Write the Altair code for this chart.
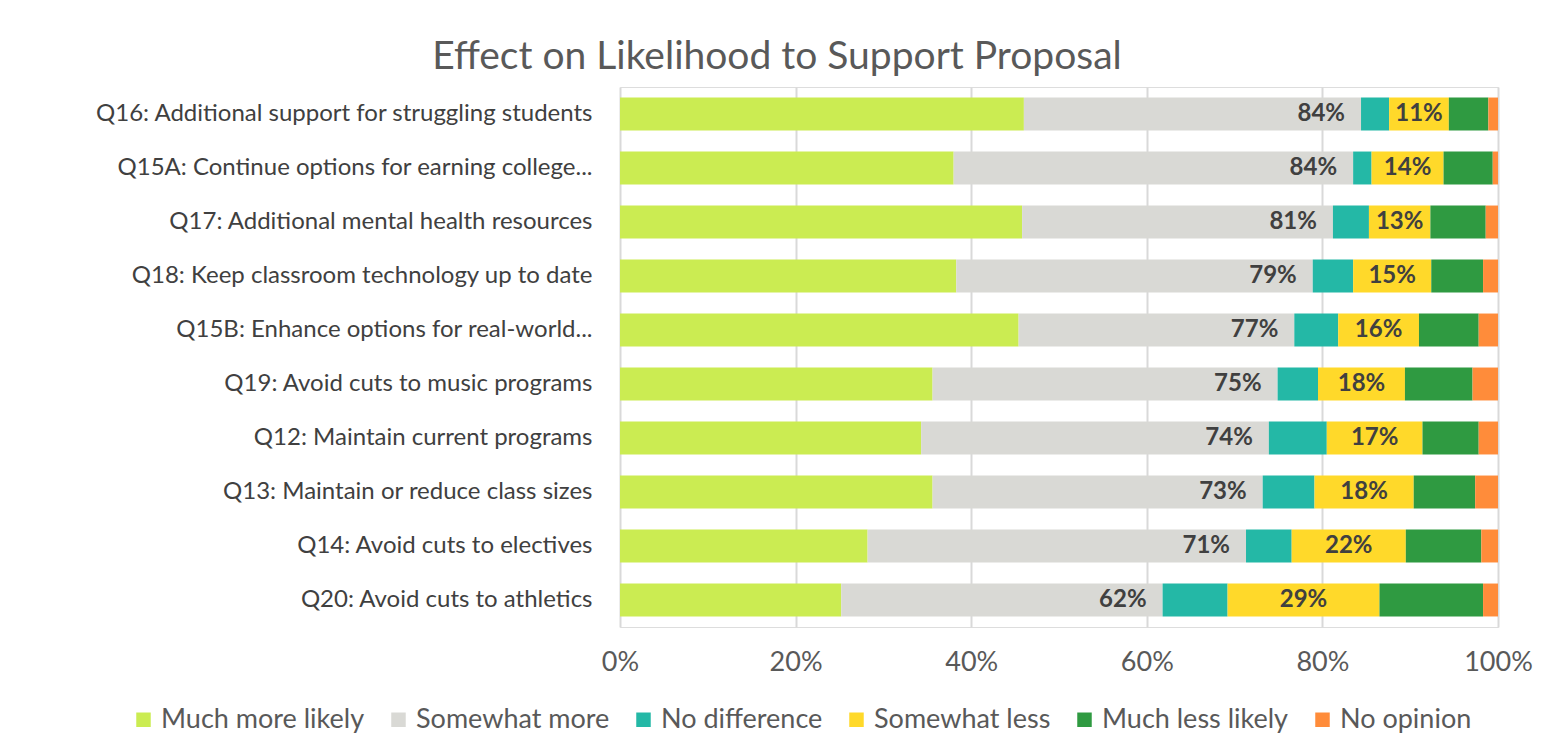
import altair as alt
import pandas as pd

questions = [
    "Q16: Additional support for struggling students",
    "Q15A: Continue options for earning college...",
    "Q17: Additional mental health resources",
    "Q18: Keep classroom technology up to date",
    "Q15B: Enhance options for real-world...",
    "Q19: Avoid cuts to music programs",
    "Q12: Maintain current programs",
    "Q13: Maintain or reduce class sizes",
    "Q14: Avoid cuts to electives",
    "Q20: Avoid cuts to athletics",
]
categories = ["Much more likely", "Somewhat more", "No difference",
              "Somewhat less", "Much less likely", "No opinion"]
much_more = [46.0, 38.0, 45.8, 38.3, 45.4, 35.6, 34.3, 35.6, 28.2, 25.2]
somewhat_more = [38.4, 45.5, 35.4, 40.6, 31.4, 39.3, 39.6, 37.6, 43.1, 36.6]
no_difference = [3.2, 2.1, 4.1, 4.6, 5.0, 4.6, 6.6, 5.9, 5.2, 7.4]
somewhat_less = [6.8, 8.2, 7.0, 8.9, 9.2, 9.9, 10.9, 11.3, 13.0, 17.3]
much_less = [4.5, 5.6, 6.3, 5.9, 6.8, 7.7, 6.4, 7.0, 8.6, 11.8]
no_opinion = [1.1, 0.6, 1.4, 1.7, 2.2, 2.9, 2.2, 2.6, 1.9, 1.7]
more_labels = ["84%", "84%", "81%", "79%", "77%", "75%", "74%", "73%", "71%", "62%"]
less_labels = ["11%", "14%", "13%", "15%", "16%", "18%", "17%", "18%", "22%", "29%"]
colors = ["#cbec52", "#d9d9d5", "#24b8a6", "#ffd92a", "#2f9a41", "#ff8c3a"]
x_ticks = [0, 20, 40, 60, 80, 100]

FONT = "Lato"

wide = pd.DataFrame({
    "question": questions,
    categories[0]: much_more,
    categories[1]: somewhat_more,
    categories[2]: no_difference,
    categories[3]: somewhat_less,
    categories[4]: much_less,
    categories[5]: no_opinion,
    "more_label": more_labels,
    "less_label": less_labels,
})

yenc = alt.Y("question:N", sort=questions, title=None,
             scale=alt.Scale(paddingInner=0.39, paddingOuter=0.195),
             axis=alt.Axis(domain=False, ticks=False, labelFontSize=24,
                           labelFont=FONT, labelColor="#404040",
                           labelPadding=28, labelLimit=800))

bars = alt.Chart(wide).transform_fold(
    categories, as_=["category", "value"]
).transform_calculate(
    ord="indexof(" + str(categories) + ", datum.category)"
).mark_bar().encode(
    y=yenc,
    x=alt.X("value:Q", stack="zero", title=None,
            scale=alt.Scale(domain=[0, 100], nice=False),
            axis=alt.Axis(values=x_ticks, labelExpr="datum.value + '%'",
                          grid=True, gridColor="#d9d9d9", gridWidth=2,
                          domain=False, ticks=False, labelFontSize=27,
                          labelFont=FONT, labelColor="#595959",
                          labelFlush=False, labelPadding=22)),
    color=alt.Color("category:N", sort=categories,
                    scale=alt.Scale(domain=categories, range=colors),
                    legend=alt.Legend(orient="none", legendX=-490, legendY=619,
                                      direction="horizontal", title=None,
                                      symbolType="square", symbolSize=210,
                                      symbolStrokeWidth=0,
                                      labelFontSize=27, labelFont=FONT,
                                      labelColor="#595959", labelOffset=4,
                                      labelLimit=1000, columnPadding=20)),
    order=alt.Order("ord:Q"),
)

more_text = alt.Chart(wide).transform_calculate(
    xpos="datum['Much more likely'] + datum['Somewhat more']"
).mark_text(align="right", baseline="middle", dx=-16, fontSize=24,
            fontWeight="bold", font=FONT, color="#404040").encode(
    y=alt.Y("question:N", sort=questions),
    x=alt.X("xpos:Q"),
    text="more_label:N",
)

less_text = alt.Chart(wide).transform_calculate(
    xpos="datum['Much more likely'] + datum['Somewhat more'] + datum['No difference'] + datum['Somewhat less'] / 2"
).mark_text(align="center", baseline="middle", fontSize=24,
            fontWeight="bold", font=FONT, color="#404040").encode(
    y=alt.Y("question:N", sort=questions),
    x=alt.X("xpos:Q"),
    text="less_label:N",
)

chart = alt.layer(bars, more_text, less_text).properties(
    width=878, height=540,
    title=alt.TitleParams("Effect on Likelihood to Support Proposal",
                          anchor="middle", frame="group", dx=-282,
                          fontSize=39, font=FONT, fontWeight="normal",
                          color="#595959", offset=10),
    autosize=alt.AutoSizeParams(type="none"),
    padding={"left": 612, "top": 79, "right": 35, "bottom": 110},
).configure_view(stroke=None).configure(background="white")

chart.save("out.html", embed_options={"renderer": "svg", "actions": False})
